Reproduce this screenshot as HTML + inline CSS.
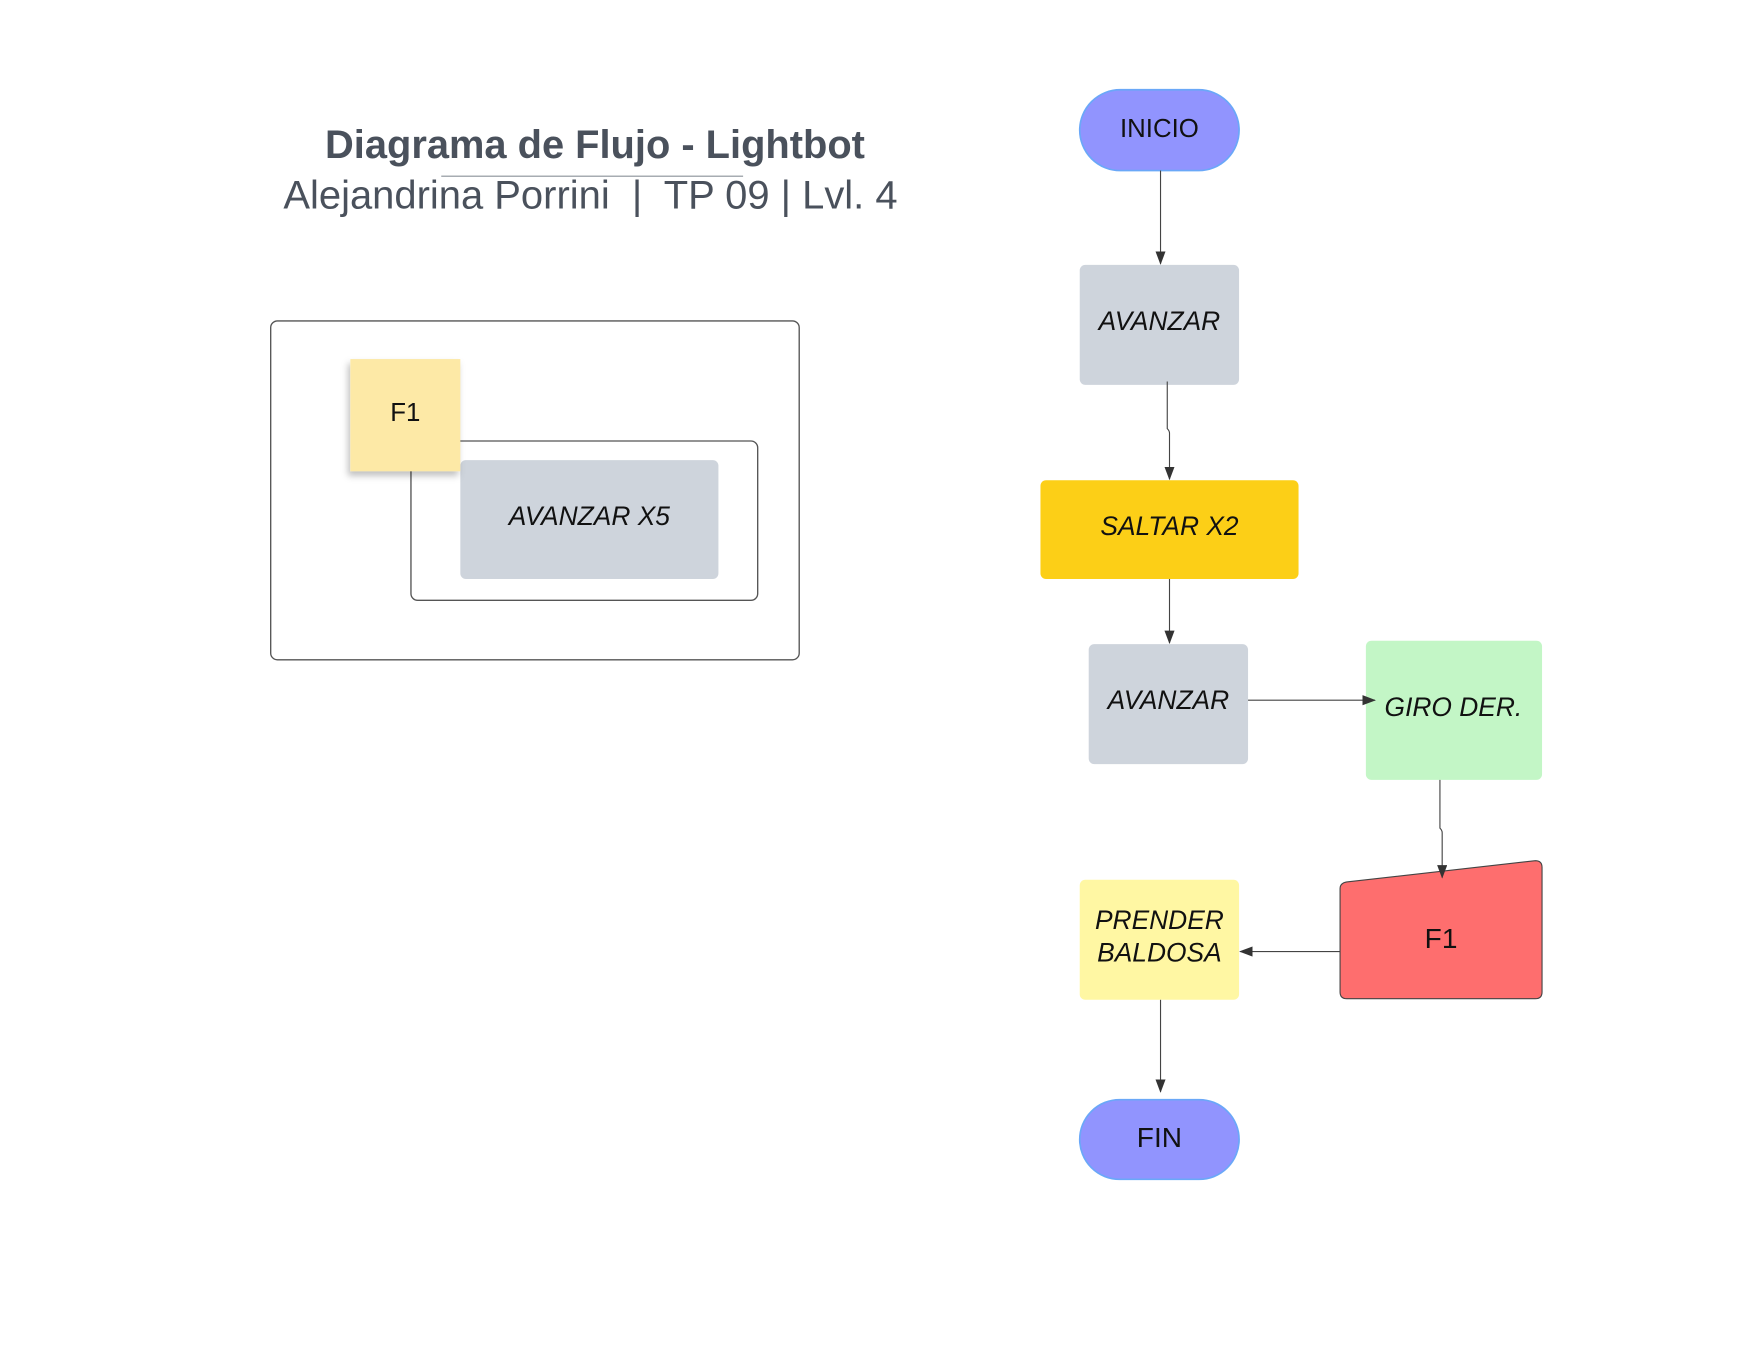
<!DOCTYPE html>
<html><head><meta charset="utf-8"><style>html,body{margin:0;padding:0;background:#fff}svg{display:block}</style></head>
<body>
<svg width="1760" height="1360" viewBox="0 0 1568 1212" xmlns="http://www.w3.org/2000/svg" font-family="Liberation Sans, sans-serif">
<defs>
<marker id="a" markerWidth="12" markerHeight="10" refX="11" refY="4.5" orient="auto" markerUnits="userSpaceOnUse"><path d="M0,0 L12,4.5 L0,9 z" fill="#333"/></marker>
<filter id="sh" x="-20%" y="-20%" width="150%" height="150%"><feDropShadow dx="-2" dy="4" stdDeviation="3" flood-color="#000" flood-opacity="0.25"/></filter>
</defs>
<rect width="1568" height="1212" fill="#fff"/>
<text x="530" y="141" text-anchor="middle" font-size="35.5" font-weight="bold" fill="#4a515c">Diagrama de Flujo - Lightbot</text>
<line x1="393" y1="157" x2="662" y2="157" stroke="#8a9099" stroke-width="1"/>
<text x="526" y="186" text-anchor="middle" font-size="35.6" fill="#4a515c" xml:space="preserve">Alejandrina Porrini  |  TP 09 | Lvl. 4</text>

<rect x="241" y="286" width="471" height="302" rx="6" fill="none" stroke="#555" stroke-width="1.2"/>
<rect x="366" y="393" width="309" height="142" rx="6" fill="none" stroke="#555" stroke-width="1.2"/>
<rect x="410" y="410" width="230" height="106" rx="5" fill="#ced4dc"/>
<text x="525" y="468" text-anchor="middle" font-size="23.5" font-style="italic" fill="#111">AVANZAR X5</text>
<rect x="312" y="320" width="98" height="100" fill="#fde9a6" filter="url(#sh)"/>
<text x="361" y="375" text-anchor="middle" font-size="23" fill="#111">F1</text>

<rect x="962" y="80" width="142" height="72" rx="36" fill="#9194fe" stroke="#6aa8f8" stroke-width="1.5"/>
<text x="1033" y="122" text-anchor="middle" font-size="23" fill="#111">INICIO</text>

<rect x="962" y="236" width="142" height="107" rx="5" fill="#ced4dc"/>
<text x="1033" y="294" text-anchor="middle" font-size="23.5" font-style="italic" fill="#111">AVANZAR</text>

<rect x="927" y="428" width="230" height="88" rx="5" fill="#fccf17"/>
<text x="1042" y="477" text-anchor="middle" font-size="23.5" font-style="italic" fill="#111">SALTAR X2</text>

<rect x="970" y="574" width="142" height="107" rx="5" fill="#ced4dc"/>
<text x="1041" y="632" text-anchor="middle" font-size="23.5" font-style="italic" fill="#111">AVANZAR</text>

<rect x="1217" y="571" width="157" height="124" rx="5" fill="#c3f6c6"/>
<text x="1295" y="638" text-anchor="middle" font-size="23.5" font-style="italic" fill="#111">GIRO DER.</text>

<path d="M1200 786 L1368 767 Q1374 767 1374 773 V884 Q1374 890 1368 890 H1200 Q1194 890 1194 884 V792 Q1194 787 1200 786 Z" fill="#fe6e6e" stroke="#444" stroke-width="1"/>
<text x="1284" y="845" text-anchor="middle" font-size="25" fill="#111">F1</text>

<rect x="962" y="784" width="142" height="107" rx="5" fill="#fff7a3"/>
<text x="1033" y="828" text-anchor="middle" font-size="23.5" font-style="italic" fill="#111">PRENDER</text>
<text x="1033" y="857" text-anchor="middle" font-size="23.5" font-style="italic" fill="#111">BALDOSA</text>

<rect x="962" y="980" width="142" height="71" rx="35.5" fill="#9194fe" stroke="#6aa8f8" stroke-width="1.5"/>
<text x="1033" y="1022" text-anchor="middle" font-size="25" fill="#111">FIN</text>

<!-- connectors -->
<g stroke="#444" stroke-width="1" fill="none">
<line x1="1034" y1="152" x2="1034" y2="235" marker-end="url(#a)"/>
<path d="M1040 340 V382 Q1042 384 1042 386 V427" marker-end="url(#a)"/>
<line x1="1042" y1="516" x2="1042" y2="573" marker-end="url(#a)"/>
<line x1="1112" y1="624" x2="1225" y2="624" marker-end="url(#a)"/>
<path d="M1283 695 V738 Q1285 740 1285 742 V782" marker-end="url(#a)"/>
<line x1="1194" y1="848" x2="1105" y2="848" marker-end="url(#a)"/>
<line x1="1034" y1="891" x2="1034" y2="973" marker-end="url(#a)"/>
</g>
</svg>
</body></html>
